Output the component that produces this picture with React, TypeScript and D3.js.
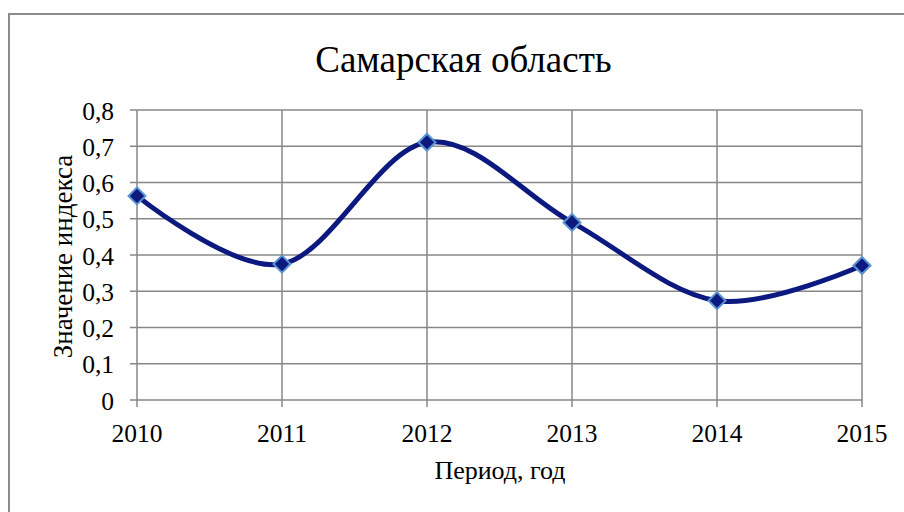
import React from "react";
import * as d3 from "d3";

const years = [2010, 2011, 2012, 2013, 2014, 2015];
const values = [0.563, 0.375, 0.711, 0.49, 0.274, 0.371];
const yTicks = [0, 0.1, 0.2, 0.3, 0.4, 0.5, 0.6, 0.7, 0.8];
const title = "Самарская область";
const xTitle = "Период, год";
const yTitle = "Значение индекса";

const W = 904;
const H = 512;
const left = 137;
const right = 862;
const top = 110;
const bottom = 400;

export default function App() {
  const x = d3.scaleLinear().domain([2010, 2015]).range([left, right]);
  const y = d3.scaleLinear().domain([0, 0.8]).range([bottom, top]);
  const pts = years.map((yr, i) => [x(yr), y(values[i])] as [number, number]);
  const line = d3.line().curve(d3.curveCardinal.tension(0))(pts) || "";
  const fmt = (v: number) => (v === 0 ? "0" : v.toFixed(1).replace(".", ","));
  const ff = { fontFamily: '"Liberation Serif"' };
  const grid = "#878787";
  return (
    <svg width={W} height={H} style={{ position: "fixed", left: 0, top: 0, background: "#fff", fontFamily: '"Liberation Serif"' }}>
      <rect x={0} y={0} width={W} height={H} fill="#fff" />
      <path d={`M9,${H} V14 H${W}`} fill="none" stroke="#8c8c8c" strokeWidth={2} />
      <text x={463.5} y={72} textAnchor="middle" fontSize={37} fill="#000" style={ff}>{title}</text>
      {yTicks.map((t) => (
        <g key={t}>
          <line x1={left - 7} x2={right} y1={y(t)} y2={y(t)} stroke={grid} strokeWidth={1.5} />
          <text x={114} y={y(t) + 9.5} textAnchor="end" fontSize={25.5} fill="#000" style={ff}>{fmt(t)}</text>
        </g>
      ))}
      {years.map((yr) => (
        <g key={yr}>
          <line x1={x(yr)} x2={x(yr)} y1={top} y2={bottom + 7} stroke={grid} strokeWidth={1.5} />
          <text x={x(yr)} y={442} textAnchor="middle" fontSize={25.5} fill="#000" style={ff}>{yr}</text>
        </g>
      ))}
      <text x={500} y={479} textAnchor="middle" fontSize={26} fill="#000" style={ff}>{xTitle}</text>
      <text transform={`translate(71.5,256.5) rotate(-90)`} textAnchor="middle" fontSize={27} fill="#000" style={ff}>{yTitle}</text>
      <path d={line} fill="none" stroke="#0c1a80" strokeWidth={5} strokeLinejoin="round" />
      {pts.map(([px, py], i) => (
        <rect key={i} x={px - 6} y={py - 6} width={12} height={12} transform={`rotate(45,${px},${py})`} fill="#0c1a80" stroke="#5a93cf" strokeWidth={2} />
      ))}
    </svg>
  );
}
